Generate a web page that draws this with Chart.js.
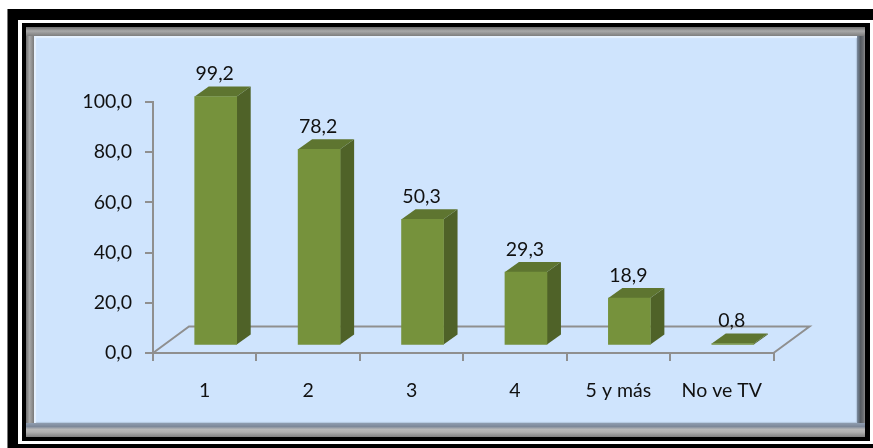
<!DOCTYPE html>
<html>
<head>
<meta charset="utf-8">
<title>No ve TV</title>
<script src="https://cdn.jsdelivr.net/npm/chart.js@4"></script>
<style>
  html, body { margin: 0; padding: 0; background: #fff; overflow: hidden; }
  #stage { position: relative; width: 873px; height: 448px; }
  .box { position: absolute; box-sizing: border-box; }
  /* thick outer border, then the white line, then the thin black one */
  #outer { left: 7px; top: 9px; width: 866px; height: 439px; background: #000; border-left: 1px solid #777; }
  #whiteLine { left: 18px; top: 20px; width: 855px; height: 424px; background: #fff; }
  #innerLine { left: 22px; top: 23px; width: 848px; height: 418px; background: #000; }
  /* grey bevel, one gradient per edge */
  #bevel {
    left: 26px; top: 27px; width: 839px; height: 410px;
    background-color: #8a8a8a;
    background-image:
      linear-gradient(to bottom, #707070, #a8a8a8 45%, #7e7e7e),
      linear-gradient(to bottom, #8f9db0, #7d8899 25%, #b8b8b8 45%, #b0b0b0 65%, #808080),
      linear-gradient(to right, #6e6e6e, #a8a8a8 45%, #7a7a7a),
      linear-gradient(to right, #7b8ba0, #555a60 45%, #6d7074 80%, #8c8c8c);
    background-size: 100% 9px, 100% 14px, 8px 100%, 8px 100%;
    background-position: 0 0, 0 100%, 0 0, 100% 0;
    background-repeat: no-repeat;
  }
  #panel {
    left: 34px; top: 36px; width: 823px; height: 387px;
    background: #cfe4fd;
    box-shadow: inset 2px 2px 1px #e6f1fe, inset -1px -1px 1px #b4c8df;
  }
  canvas { position: absolute; left: 0; top: 0; }
</style>
</head>
<body>
<div id="stage">
  <div class="box" id="outer"></div>
  <div class="box" id="whiteLine"></div>
  <div class="box" id="innerLine"></div>
  <div class="box" id="bevel"></div>
  <div class="box" id="panel"></div>
  <canvas id="chart" width="873" height="448"></canvas>
</div>
<script>
const categories = ["1", "2", "3", "4", "5 y más", "No ve TV"];
const values = [99.2, 78.2, 50.3, 29.3, 18.9, 0.8];
const yTicks = [0, 20, 40, 60, 80, 100];

const AXIS_GREY = "#8f8f8f";
const FONT_FAMILY = "Lato, 'Open Sans', sans-serif";
const FONT_SIZE = 19.5;

// decimal comma, like the original
function comma(v) {
  return Number(v).toFixed(1).replace(".", ",");
}

function polygon(ctx, pts, fill) {
  ctx.beginPath();
  ctx.moveTo(pts[0][0], pts[0][1]);
  for (let i = 1; i < pts.length; i++) {
    ctx.lineTo(pts[i][0], pts[i][1]);
  }
  ctx.closePath();
  ctx.fillStyle = fill;
  ctx.fill();
}

// Fake 3D: floor behind the bars, then side and top faces taken from the bar elements
const fake3d = {
  id: "fake3d",
  beforeDatasetsDraw(chart) {
    const { ctx, chartArea: a } = chart;

    // floor outline
    ctx.save();
    ctx.strokeStyle = AXIS_GREY;
    ctx.lineWidth = 2;
    ctx.beginPath();
    ctx.moveTo(a.left, a.bottom);
    ctx.lineTo(a.left + 36, a.bottom - 26.5);
    ctx.lineTo(a.right + 36, a.bottom - 26.5);
    ctx.lineTo(a.right, a.bottom);
    ctx.stroke();
    ctx.restore();

    // move the front faces onto the floor
    ctx.save();
    ctx.translate(11, -7.5);
    chart.getDatasetMeta(0).data.forEach(bar => {
      const p = bar.getProps(["x", "y", "base", "width"], true);
      const l = p.x - p.width / 2;
      const r = p.x + p.width / 2;
      polygon(ctx, [[r, p.y], [r + 14, p.y - 10], [r + 14, p.base - 10], [r, p.base]], "#4f6228");
      polygon(ctx, [[l, p.y], [l + 14, p.y - 10], [r + 14, p.y - 10], [r, p.y]], "#5e7530");
    });
  },
  afterDatasetsDraw(chart) {
    const { ctx } = chart;
    ctx.restore();

    // value labels above the top face
    ctx.save();
    ctx.font = FONT_SIZE + "px " + FONT_FAMILY;
    ctx.fillStyle = "#111";
    ctx.textAlign = "center";
    ctx.textBaseline = "middle";
    chart.getDatasetMeta(0).data.forEach((bar, i) => {
      const p = bar.getProps(["x", "y"], true);
      ctx.fillText(comma(values[i]), p.x + 10, p.y - 7.5 - 10 - 12.5);
    });
    ctx.restore();
  }
};

new Chart(document.getElementById("chart").getContext("2d"), {
  type: "bar",
  data: {
    labels: categories,
    datasets: [{
      data: values,
      backgroundColor: "#76923c",
      borderWidth: 0,
      barThickness: 42
    }]
  },
  plugins: [fake3d],
  options: {
    responsive: false,
    animation: false,
    layout: { padding: { top: 102, right: 99.5, left: 0, bottom: 0 } },
    plugins: { legend: { display: false }, tooltip: { enabled: false } },
    scales: {
      x: {
        grid: { drawOnChartArea: false, color: AXIS_GREY, lineWidth: 2, tickLength: 8, offset: true },
        border: { color: AXIS_GREY, width: 2 },
        ticks: { color: "#111", font: { family: FONT_FAMILY, size: FONT_SIZE }, padding: 18, maxRotation: 0, autoSkip: false },
        afterFit(scale) { scale.height = 95; }
      },
      y: {
        min: 0,
        max: 100,
        afterBuildTicks(scale) { scale.ticks = yTicks.map(v => ({ value: v })); },
        grid: { drawOnChartArea: false, color: AXIS_GREY, lineWidth: 2, tickLength: 8 },
        border: { color: AXIS_GREY, width: 2 },
        ticks: { color: "#111", font: { family: FONT_FAMILY, size: FONT_SIZE }, padding: 13, callback: comma },
        afterFit(scale) { scale.width = 153; }
      }
    }
  }
});
</script>
</body>
</html>
